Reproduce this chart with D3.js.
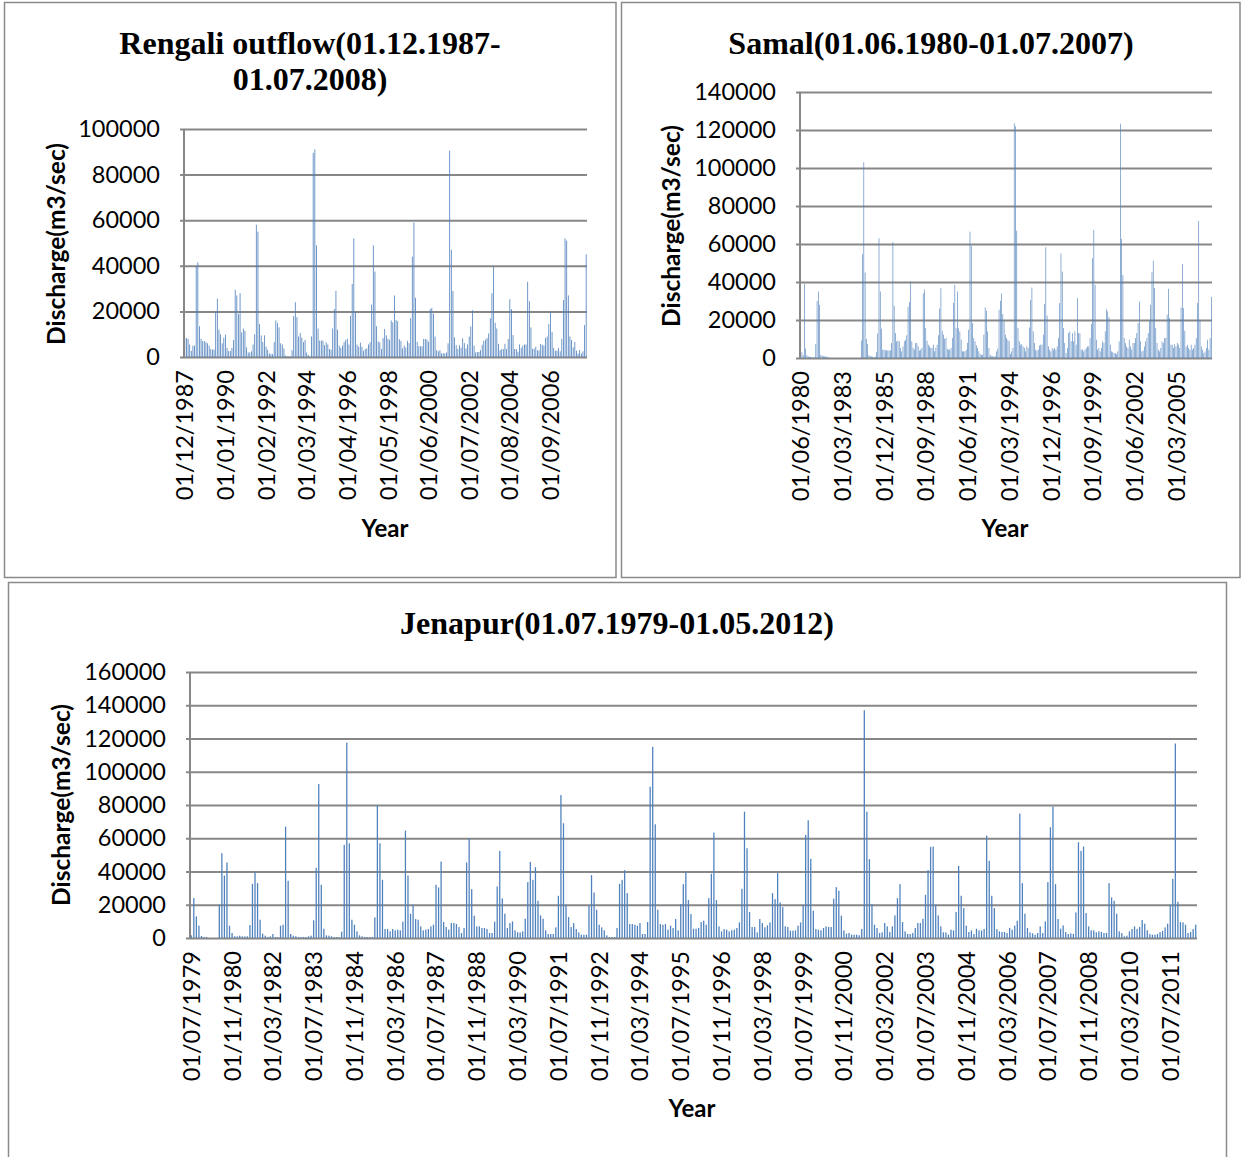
<!DOCTYPE html>
<html>
<head>
<meta charset="utf-8">
<script src="https://cdn.jsdelivr.net/npm/d3@7"></script>
<style>
  body { margin: 0; background: #fff; }
  svg { display: block; }
</style>
</head>
<body>
<svg id="chart" width="1241" height="1157"></svg>
<script>
// monthly discharge, Rengali outflow, Dec 1987 - Jul 2008 (one value per month)
const rengaliFlow = [
  8300, 8300, 8000, 5500, 2700, 5000, 5000, 40000, 41500, 13500, 8000, 7000,
  7000, 6500, 6000, 5000, 3500, 3200, 3300, 20000, 25600, 12000, 10000, 6000,
  8500, 9800, 4000, 2600, 2600, 4000, 7500, 29500, 27000, 18800, 28000, 10800,
  12500, 11500, 4200, 2000, 2000, 2500, 5500, 10000, 58000, 55000, 14500, 9500,
  6600, 9500, 4500, 3200, 1600, 1300, 1300, 6500, 16000, 15000, 13000, 6000,
  5500, 3800, 600, 300, 300, 300, 3000, 18000, 24000, 17500, 9000, 10500,
  8500, 6500, 7500, 2000, 900, 300, 9000, 89500, 91000, 49000, 12500, 7200,
  7200, 7200, 5200, 6500, 5500, 3500, 3200, 12500, 21000, 29000, 12000, 5000,
  4000, 5000, 6500, 7500, 8000, 5500, 18000, 32000, 52000, 20000, 5500, 4500,
  6300, 4500, 2700, 3500, 3800, 5500, 6500, 23000, 49000, 37500, 13500, 6800,
  6400, 3500, 8300, 12300, 9500, 8000, 7500, 16000, 15200, 27000, 16200, 15700,
  7800, 7000, 3800, 5000, 4200, 7100, 6100, 17000, 44000, 59000, 26000, 6700,
  4700, 4700, 4700, 7900, 7900, 7600, 6700, 21000, 21500, 19000, 9000, 3000,
  2500, 3000, 1600, 1600, 1600, 2000, 6000, 90500, 47000, 29000, 8600, 5200,
  3500, 5200, 4100, 8200, 6100, 3800, 5500, 9000, 13400, 20500, 5000, 2000,
  2200, 2200, 3000, 5400, 7100, 7600, 8300, 10300, 17000, 28000, 39500, 15000,
  12500, 5800, 3000, 3500, 3500, 5800, 3500, 7900, 25300, 21000, 9600, 3500,
  3500, 2300, 5500, 4000, 5000, 5500, 5500, 33000, 24500, 13000, 3600, 3600,
  4500, 2900, 2900, 5700, 5400, 5000, 8400, 9000, 14500, 20000, 11000, 4000,
  2800, 2800, 4000, 2500, 8000, 25000, 52000, 51000, 27000, 9000, 7500, 4300,
  6600, 2800, 1500, 3100, 1500, 2500, 14000, 45000
];

// monthly discharge, Samal, Jun 1980 - Jul 2007
const samalFlow = [
  58000, 3000, 1500, 39000, 5000, 1500, 800, 600, 500, 400, 300, 300,
  7300, 30000, 35000, 28000, 1700, 1200, 1000, 800, 900, 600, 300, 0,
  0, 0, 0, 0, 0, 0, 0, 0, 0, 0, 0, 0,
  0, 0, 0, 0, 0, 0, 0, 0, 0, 0, 0, 0,
  9100, 54600, 103000, 45000, 10000, 7300, 1500, 1000, 800, 600, 500, 700,
  3000, 13000, 63000, 35000, 15400, 4400, 4400, 4000, 4000, 4000, 4000, 4000,
  7900, 61000, 27500, 13100, 8800, 9100, 8800, 5300, 3500, 6100, 8800, 9600,
  12000, 27000, 29400, 40200, 8800, 5300, 4400, 7900, 7900, 6100, 3900, 4400,
  5300, 34000, 36000, 15700, 9100, 7000, 6100, 5300, 5300, 7000, 3500, 5300,
  7000, 12000, 26000, 36800, 14400, 12300, 10100, 10500, 4900, 4400, 4400, 5300,
  10500, 29000, 38500, 15700, 35000, 15700, 14000, 9600, 3500, 3500, 3500, 4400,
  8000, 14900, 66500, 59000, 18400, 10500, 8800, 6600, 5300, 3500, 2100, 1700,
  1700, 12300, 26600, 24800, 14000, 5300, 1700, 900, 900, 900, 900, 3500,
  4900, 25400, 30100, 34000, 23100, 19300, 12300, 10500, 9600, 8800, 2100, 3500,
  5300, 123500, 122000, 67000, 15700, 8800, 7000, 7300, 6100, 5300, 3500, 6100,
  5300, 16000, 30600, 37100, 14000, 7900, 4400, 3900, 4400, 6600, 7000, 7000,
  12300, 28400, 58300, 22400, 6100, 4400, 3500, 5300, 4400, 5300, 4400, 6100,
  10500, 28900, 55000, 45500, 15700, 7900, 2600, 5300, 13100, 14000, 8800, 13100,
  8800, 14000, 7000, 31500, 13100, 13100, 4400, 4400, 3500, 4400, 5300, 6100,
  6100, 10500, 17900, 52500, 67400, 38500, 9600, 4400, 5300, 3500, 5300, 8800,
  7900, 14000, 25700, 24500, 21500, 7000, 3500, 3100, 2600, 2600, 2100, 3500,
  8800, 123300, 62600, 43700, 10500, 7900, 6100, 5300, 9600, 6100, 4400, 7900,
  7900, 10500, 13100, 18400, 29700, 8800, 3500, 3900, 6100, 8800, 10500, 13100,
  19300, 28000, 45100, 51300, 36800, 15700, 7900, 4400, 3500, 5300, 8800, 7900,
  10500, 10500, 22800, 36400, 21000, 7000, 7000, 5300, 7300, 6100, 7900, 7000,
  5300, 26600, 49500, 26200, 14400, 6100, 7000, 5300, 4400, 7000, 4400, 5300,
  7000, 10500, 28900, 72100, 20100, 6100, 4400, 2600, 3500, 5300, 9600, 4400,
  10500, 32200
];

// monthly discharge, Jenapur, Jul 1979 - May 2012
const jenapurFlow = [
  1600, 24000, 13000, 7400, 1200, 600, 600, 0, 0, 0, 0, 20000,
  51000, 37600, 45400, 7400, 3000, 1000, 1000, 1400, 1000, 1000, 1000, 7800,
  32600, 39800, 33000, 11000, 2600, 1400, 600, 1000, 2400, 600, 600, 7400,
  8000, 67000, 34400, 2400, 1400, 1000, 600, 600, 600, 600, 1000, 1400,
  10600, 42200, 92600, 32000, 5600, 1600, 1400, 1000, 600, 600, 600, 3800,
  56000, 117500, 57000, 11000, 8000, 4000, 1600, 1000, 600, 600, 600, 600,
  12400, 80000, 57000, 35000, 5400, 5400, 4000, 5400, 4600, 5000, 4600, 9800,
  64600, 37600, 14600, 20000, 11400, 11000, 7000, 4600, 5000, 5400, 7000, 8000,
  32000, 30400, 46000, 9600, 6600, 5000, 9000, 9000, 8400, 6600, 3000, 6000,
  45400, 60000, 29400, 13400, 7000, 7000, 6000, 6000, 5400, 3000, 3000, 9800,
  31000, 52400, 23800, 14600, 6000, 9000, 10000, 4600, 3400, 3400, 4000, 11600,
  33600, 45800, 35000, 42600, 22400, 13600, 11600, 4600, 2400, 2400, 2400, 6400,
  25400, 86000, 69000, 20000, 12600, 6600, 9000, 5400, 3400, 2000, 2000, 2000,
  19600, 37800, 27400, 17000, 8000, 6400, 4600, 1600, 600, 600, 600, 6000,
  32600, 35000, 40800, 27000, 8400, 8400, 8000, 7400, 9000, 2400, 2400, 9600,
  91000, 115000, 68400, 17000, 8400, 8000, 8400, 5000, 7400, 6000, 11400, 4600,
  20400, 32400, 39600, 22800, 14400, 5600, 5600, 6000, 9600, 10400, 8000, 24000,
  38600, 63400, 22800, 7000, 4000, 5400, 5000, 4000, 4600, 5000, 6000, 9400,
  29600, 76000, 54000, 15600, 6600, 6600, 3400, 11400, 9000, 6400, 7600, 9400,
  27000, 23400, 39000, 21400, 18600, 7000, 6600, 4400, 4400, 4600, 7400, 9400,
  19600, 62000, 70800, 47600, 16400, 5400, 5000, 4600, 6000, 7000, 6600, 6600,
  23600, 30600, 28400, 13400, 4600, 2600, 3000, 2000, 2000, 2000, 1600, 5400,
  137000, 76000, 47400, 20400, 8000, 6000, 3000, 3400, 9000, 7000, 3600, 7000,
  13600, 24000, 32400, 9600, 4000, 2400, 2400, 3000, 6000, 9000, 9000, 11600,
  26000, 40800, 54800, 55000, 20000, 13600, 7000, 3400, 3400, 2000, 5000, 4600,
  15600, 43400, 25400, 18000, 7400, 3600, 4600, 2400, 5600, 4600, 4600, 5400,
  61600, 46400, 25400, 18000, 5400, 4000, 3600, 3600, 3000, 6000, 5000, 7400,
  10400, 74800, 33000, 14600, 6000, 3400, 2800, 2000, 3000, 7000, 3000, 10000,
  33600, 66600, 79000, 32400, 11400, 5600, 7600, 3600, 2400, 2800, 2400, 15400,
  57600, 52400, 55000, 15000, 7000, 4600, 4600, 3400, 4000, 3600, 3000, 3000,
  33000, 24400, 22400, 14600, 4000, 3000, 1000, 1400, 4000, 5400, 7000, 5400,
  6600, 10800, 8600, 4600, 2400, 2000, 2000, 2400, 3600, 4200, 6400, 8600,
  20000, 35600, 117000, 21800, 9600, 9400, 8000, 3000, 3600, 5400, 8000
];

// category labels shown on the x axes (Excel skips the ones between)
const rengaliTicks = ["01/12/1987", "01/01/1990", "01/02/1992", "01/03/1994", "01/04/1996",
  "01/05/1998", "01/06/2000", "01/07/2002", "01/08/2004", "01/09/2006"];
const samalTicks = ["01/06/1980", "01/03/1983", "01/12/1985", "01/09/1988", "01/06/1991",
  "01/03/1994", "01/12/1996", "01/09/1999", "01/06/2002", "01/03/2005"];
const jenapurTicks = ["01/07/1979", "01/11/1980", "01/03/1982", "01/07/1983", "01/11/1984",
  "01/03/1986", "01/07/1987", "01/11/1988", "01/03/1990", "01/07/1991", "01/11/1992",
  "01/03/1994", "01/07/1995", "01/11/1996", "01/03/1998", "01/07/1999", "01/11/2000",
  "01/03/2002", "01/07/2003", "01/11/2004", "01/03/2006", "01/07/2007", "01/11/2008",
  "01/03/2010", "01/07/2011"];

const rengaliYTicks = [0, 20000, 40000, 60000, 80000, 100000];
const samalYTicks = [0, 20000, 40000, 60000, 80000, 100000, 120000, 140000];
const jenapurYTicks = [0, 20000, 40000, 60000, 80000, 100000, 120000, 140000, 160000];

const svg = d3.select("#chart");
const sans = "Lato, 'Open Sans', sans-serif";
const gridColor = "#878787";

function drawPanel(p) {
  const g = svg.append("g");

  // outer frame
  g.append("rect")
    .attr("x", p.box[0]).attr("y", p.box[1])
    .attr("width", p.box[2]).attr("height", p.box[3])
    .attr("fill", "none").attr("stroke", "#8a8a8a").attr("stroke-width", 1.5);

  // title, one text per line
  p.title.forEach((t, i) => {
    g.append("text")
      .attr("x", p.titleX).attr("y", p.titleY + i * 36)
      .attr("text-anchor", "middle")
      .style("font-family", "'Liberation Serif', 'Times New Roman', serif")
      .style("font-weight", "bold").style("font-size", "32px")
      .text(t);
  });

  const x = d3.scaleBand()
    .domain(d3.range(p.values.length))
    .range([p.left, p.right])
    .paddingInner(0.5).paddingOuter(0.25);

  const y = d3.scaleLinear()
    .domain([0, d3.max(p.yTicks)])
    .range([p.bottom, p.top]);

  // gridlines + value labels
  const ya = g.append("g")
    .attr("transform", `translate(${p.left},0)`)
    .call(d3.axisLeft(y)
      .tickValues(p.yTicks)
      .tickFormat(d3.format("d"))
      .tickSizeInner(-(p.right - p.left))
      .tickSizeOuter(0)
      .tickPadding(24));
  ya.select(".domain").remove();
  ya.selectAll(".tick line")
    .attr("x1", -4)
    .attr("stroke", gridColor).attr("stroke-width", 2);
  ya.selectAll(".tick text")
    .style("font-family", sans).style("font-size", "23.5px").attr("fill", "#000");

  // columns
  g.append("g")
    .selectAll("rect")
    .data(p.values)
    .join("rect")
    .attr("x", (d, i) => x(i))
    .attr("width", x.bandwidth())
    .attr("y", d => y(d))
    .attr("height", d => p.bottom - y(d))
    .attr("fill", "#4f81bd");

  // value axis line
  g.append("line")
    .attr("x1", p.left).attr("x2", p.left)
    .attr("y1", p.top).attr("y2", p.bottom + 1)
    .attr("stroke", gridColor).attr("stroke-width", 2);

  // category axis, only every n-th label
  const xa = g.append("g")
    .attr("transform", `translate(0,${p.bottom})`)
    .call(d3.axisBottom(x)
      .tickValues(p.ticks.map((t, i) => i * p.every))
      .tickFormat((d, i) => p.ticks[i])
      .tickSize(0));
  xa.select(".domain").remove();
  xa.selectAll(".tick text")
    .attr("transform", "rotate(-90)")
    .attr("text-anchor", "end")
    .attr("x", -13).attr("y", 0).attr("dy", "0.36em")
    .attr("fill", "#000")
    .style("font-family", sans).style("font-size", "23.5px");

  // axis titles
  g.append("text")
    .attr("transform", `translate(${p.yTitle[0]},${p.yTitle[1]}) rotate(-90)`)
    .attr("text-anchor", "middle")
    .style("font-family", sans).style("font-weight", "bold").style("font-size", "24.5px")
    .text("Discharge(m3/sec)");

  g.append("text")
    .attr("x", p.xTitle[0]).attr("y", p.xTitle[1])
    .attr("text-anchor", "middle")
    .style("font-family", sans).style("font-weight", "bold").style("font-size", "24px")
    .text("Year");
}

drawPanel({
  box: [4.5, 2.5, 611.5, 575],
  title: ["Rengali outflow(01.12.1987-", "01.07.2008)"],
  titleX: 310, titleY: 54,
  values: rengaliFlow, yTicks: rengaliYTicks,
  ticks: rengaliTicks, every: 25,
  left: 184, right: 587, top: 129, bottom: 357,
  yTitle: [65, 244], xTitle: [385, 537]
});

drawPanel({
  box: [621.5, 2.5, 618.5, 575],
  title: ["Samal(01.06.1980-01.07.2007)"],
  titleX: 931, titleY: 54,
  values: samalFlow, yTicks: samalYTicks,
  ticks: samalTicks, every: 33,
  left: 800, right: 1212, top: 92, bottom: 358,
  yTitle: [680, 226], xTitle: [1005, 537]
});

drawPanel({
  box: [8.5, 582.5, 1218, 600],
  title: ["Jenapur(01.07.1979-01.05.2012)"],
  titleX: 617, titleY: 634,
  values: jenapurFlow, yTicks: jenapurYTicks,
  ticks: jenapurTicks, every: 16,
  left: 190, right: 1197, top: 672, bottom: 938,
  yTitle: [70, 805], xTitle: [692, 1117]
});
</script>
</body>
</html>
